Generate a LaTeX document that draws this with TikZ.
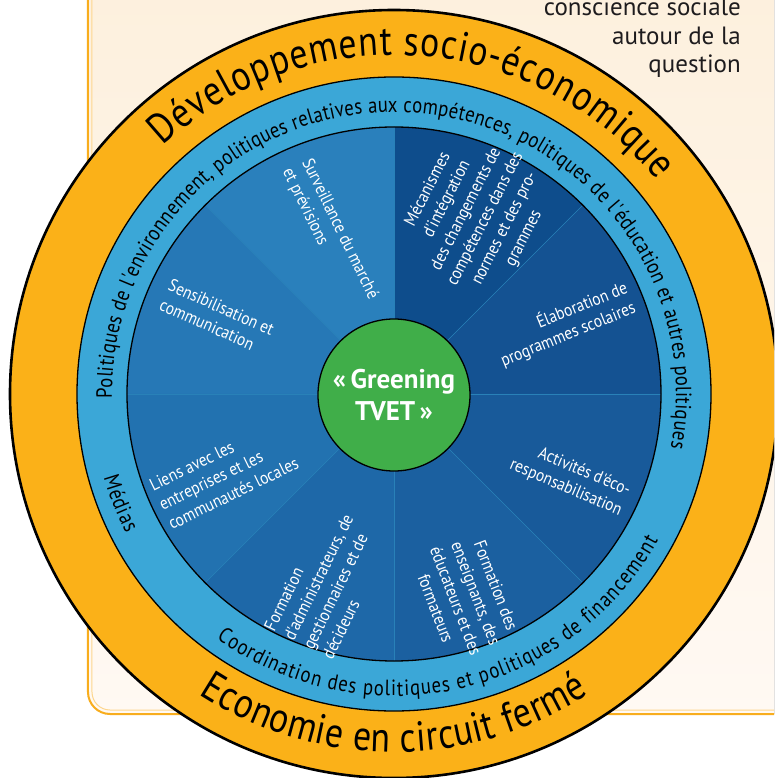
\documentclass[tikz,border=0pt]{standalone}
\usepackage{fontspec}
\setmainfont{PT Sans}
\newfontfamily\bandfont[FakeStretch=0.85]{PT Sans}
\newfontfamily\cellfont[FakeStretch=0.88]{PT Sans}
\usetikzlibrary{decorations.text}

\definecolor{boxtop}{RGB}{253,240,221}
\definecolor{boxbot}{RGB}{255,249,243}
\definecolor{boxline}{RGB}{248,173,29}
\definecolor{boxlight}{RGB}{253,214,142}
\definecolor{ochre}{RGB}{251,177,24}
\definecolor{sky}{RGB}{59,167,215}
\definecolor{leaf}{RGB}{64,174,73}
\definecolor{ink}{RGB}{30,28,30}
\definecolor{sectA}{RGB}{20,82,146}   % 0-45
\definecolor{sectB}{RGB}{14,77,140}   % 45-90
\definecolor{sectC}{RGB}{42,128,188}  % 90-135
\definecolor{sectD}{RGB}{38,120,182}  % 135-180
\definecolor{sectE}{RGB}{34,114,176}  % 180-225
\definecolor{sectF}{RGB}{30,104,168}  % 225-270
\definecolor{sectG}{RGB}{27,96,160}   % 270-315
\definecolor{sectH}{RGB}{24,90,154}   % 315-360

\newcommand{\bigband}{\bandfont\fontsize{42}{48}\selectfont}
\newcommand{\smallband}{\bandfont\fontsize{22}{26}\selectfont}

\tikzset{
  ring/.style={draw=black, line width=1.3pt}, % outline of each ring
  divider/.style={draw=sky!55!sectA, line width=0.6pt}, % thin lines between the sectors
  celltext/.style={text=white, inner sep=0pt, font=\cellfont\fontsize{17.5}{21.5}\selectfont}, % white text of a sector
  hub/.style={circle, fill=leaf, ring, minimum size=152pt, inner sep=0pt, text=white, align=center, font=\bfseries\fontsize{27}{32}\selectfont}, % centre disc
}

\begin{document}
\begin{tikzpicture}[x=1pt, y=1pt]
  \path[use as bounding box, clip] (-394,-384) rectangle (380,394);
  \fill[white] (-394,-384) rectangle (380,394);

  % background box
  \fill[top color=boxtop, bottom color=boxbot, rounded corners=22] (-306,-320) rectangle (420,420);
  \draw[boxline, line width=2pt, rounded corners=22] (-306,-320) rectangle (420,420);
  \draw[boxlight, line width=1pt, rounded corners=18] (-302,-316) rectangle (420,420);

  \node[anchor=north east, align=right, inner sep=0pt, text=ink, font=\fontsize{25}{28.5}\selectfont] (ques) at (347,396) {conscience sociale\\autour de la\\question};

  % rings
  \fill[ochre] (0,0) circle[radius=384];
  \draw[black, line width=2.6pt] (0,0) circle[radius=384];
  \fill[sky] (0,0) circle[radius=317];
  \draw[ring] (0,0) circle[radius=317];

  \foreach \a/\c in {0/sectA, 45/sectB, 90/sectC, 135/sectD, 180/sectE, 225/sectF, 270/sectG, 315/sectH}
    \fill[\c] (0,0) -- (\a:267) arc[start angle=\a, end angle=\a+45, radius=267] -- cycle;
  \foreach \a in {0,45,...,315}
    \draw[divider] (0,0) -- (\a:267);
  \draw[ring] (0,0) circle[radius=267];

  % texts along the rings
  \path[decorate, decoration={text along path, text align={fit to path},
    text={|\bigband|Développement socio-économique}}]
    (133:339) arc[start angle=133, end angle=39, radius=339];
  \path[decorate, decoration={text along path, text align={fit to path},
    text={|\bigband|Economie en circuit fermé}}]
    (237:358) arc[start angle=237, end angle=303, radius=358];
  \path[decorate, decoration={text along path, text align={fit to path},
    text={|\smallband|Politiques de l'environnement, politiques relatives aux compétences, politiques de l'éducation et autres politiques}}]
    (181:282) arc[start angle=181, end angle=-11, radius=282];
  \path[decorate, decoration={text along path, text align={fit to path},
    text={|\smallband|Coordination des politiques et politiques de financement}}]
    (234:302) arc[start angle=234, end angle=331, radius=302];
  \path[decorate, decoration={text along path, text align={fit to path},
    text={|\smallband|Médias}}]
    (196:302) arc[start angle=196, end angle=207.5, radius=302];

  % sectors
  \node[celltext, rotate=-64, align=left] (surv) at (-64,160) {Surveillance du marché\\et prévisions};
  \node[celltext, rotate=63, align=center] (meca) at (82,180) {Mécanismes\\d'intégration\\des changements de\\compétences dans des\\normes et des pro-\\grammes};
  \node[celltext, rotate=22, align=right] (elab) at (170,70) {Élaboration de\\programmes scolaires};
  \node[celltext, rotate=-23, align=right] (acti) at (176,-84) {Activités d'éco-\\responsabilisation};
  \node[celltext, rotate=-69, align=center] (fens) at (72,-203) {Formation des\\enseignants, des\\éducateurs et des\\formateurs};
  \node[celltext, rotate=64, align=left] (fadm) at (-66,-188) {Formation\\d'administrateurs, de\\gestionnaires et de\\décideurs};
  \node[celltext, rotate=26, align=left] (lien) at (-170,-80) {Liens avec les\\entreprises et les\\communautés locales};
  \node[celltext, rotate=-24, align=left] (sens) at (-177,77) {Sensibilisation et\\communication};

  \node[hub] (tvet) at (0,-1) {«\,Greening\\TVET\,»};
\end{tikzpicture}
\end{document}
